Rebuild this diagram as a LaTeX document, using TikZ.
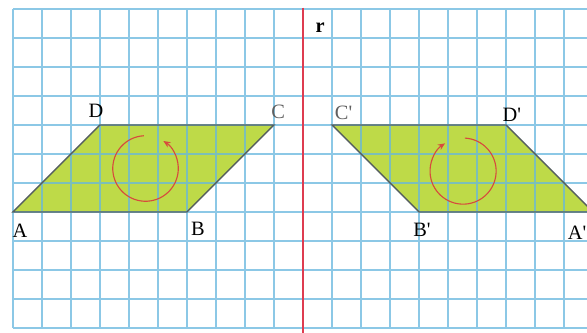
\documentclass[tikz,border=0pt]{standalone}
\usepackage{fontspec}
\setmainfont{Liberation Serif}
\usetikzlibrary{arrows.meta}
\definecolor{gridblue}{RGB}{102,182,222}
\definecolor{fillgreen}{RGB}{190,218,72}
\definecolor{edgegray}{RGB}{85,95,95}
\definecolor{axisred}{RGB}{222,60,80}
\definecolor{arcred}{RGB}{215,75,60}
\definecolor{lblgray}{RGB}{95,95,95}
\tikzset{
  gridline/.style={draw=gridblue, line width=1.1pt, opacity=0.75},
  figfill/.style={fill=fillgreen},
  figedge/.style={draw=edgegray, line width=1.4pt, line join=miter},
  axisline/.style={draw=axisred, line width=1.6pt},
  turnarrow/.style={draw=arcred, line width=1.1pt, -{Stealth[length=7pt,width=6pt]}},
  vlabel/.style={font=\fontsize{20}{22}\selectfont, inner sep=0pt},
}
\newcommand{\pr}{\textquotesingle}
\begin{document}
\begin{tikzpicture}[x=1cm,y=1cm]
\useasboundingbox (-0.448,-0.172) rectangle (19.793,11.31);
\clip (-0.448,-0.172) rectangle (19.793,11.31);
% vertices
\coordinate (A) at (0,4);
\coordinate (B) at (6,4);
\coordinate (C) at (9,7);
\coordinate (D) at (3,7);
\coordinate (A1) at (20,4);
\coordinate (B1) at (14,4);
\coordinate (C1) at (11,7);
\coordinate (D1) at (17,7);
% fills
\path[figfill] (A) -- (B) -- (C) -- (D) -- cycle;
\path[figfill] (A1) -- (B1) -- (C1) -- (D1) -- cycle;
% grid
\draw[gridline] (0,0) grid (20.6,11);
% edges
\draw[figedge] (A) -- (B) -- (C) -- (D) -- cycle;
\draw[figedge] (A1) -- (B1) -- (C1) -- (D1) -- cycle;
% axis r
\coordinate (rtop) at (10,11.05);
\coordinate (rbot) at (10,-0.25);
\draw[axisline] (rtop) -- (rbot);
\node[font=\bfseries\fontsize{20}{22}\selectfont, inner sep=0pt] (rlbl) at (10.59,10.36) {r};
% rotation arrows
\coordinate (cL) at (4.57,5.5);
\coordinate (cR) at (15.52,5.41);
\draw[turnarrow] (cL) ++(93:1.13) arc[start angle=93, end angle=417, radius=1.13];
\draw[turnarrow] (cR) ++(87:1.14) arc[start angle=87, end angle=-237, radius=1.14];
% labels
\node[vlabel] (lA) at (0.24,3.36) {A};
\node[vlabel] (lB) at (6.38,3.42) {B};
\node[vlabel, text=lblgray] (lC) at (9.14,7.45) {C};
\node[vlabel] (lD) at (2.86,7.5) {D};
\node[vlabel] (lA1) at (19.45,3.28) {A\pr};
\node[vlabel] (lB1) at (14.1,3.38) {B\pr};
\node[vlabel, text=lblgray] (lC1) at (11.4,7.41) {C\pr};
\node[vlabel] (lD1) at (17.2,7.34) {D\pr};
\end{tikzpicture}
\end{document}
